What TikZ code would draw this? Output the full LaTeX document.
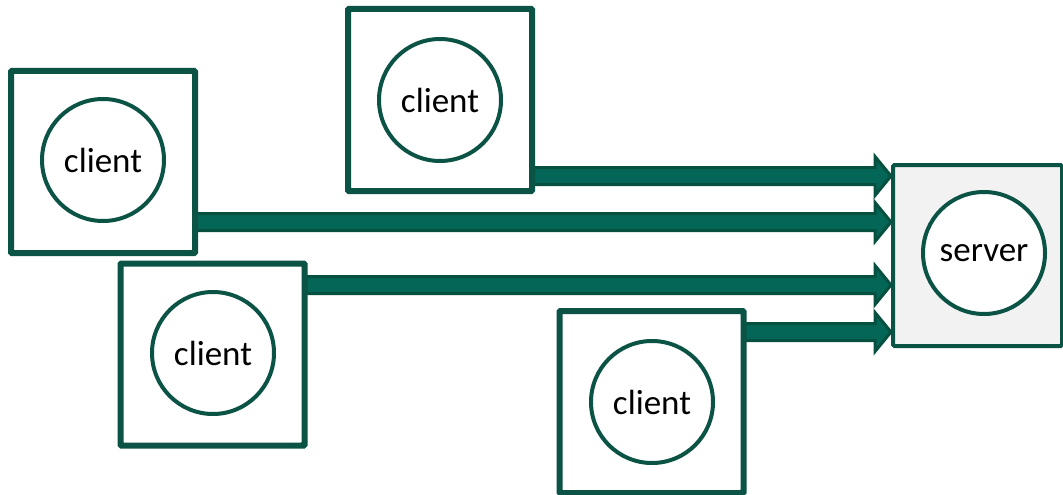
\documentclass[tikz,border=0pt]{standalone}
\usepackage{fontspec}
\setmainfont{Carlito}
\usetikzlibrary{calc}
\definecolor{boxline}{HTML}{0B5345}
\definecolor{arrowline}{HTML}{06503F}
\definecolor{arrowfill}{HTML}{046656}
\definecolor{srvfill}{HTML}{F2F2F2}
\tikzset{
  host/.style={draw=boxline, line width=4pt, rounded corners=1.5pt,
    minimum width=182pt, minimum height=180pt, inner sep=0pt, fill=white},
  proc/.style={circle, draw=boxline, line width=4pt, minimum size=122pt,
    inner sep=0pt, fill=white, font=\fontsize{35}{40}\selectfont},
  fatarrow/.style={draw=arrowline, fill=arrowfill, line width=3pt, line join=miter},
}
% thick block arrow from #1 to #2 (both on the same horizontal line)
\newcommand{\fatarrow}[2]{%
  \draw[fatarrow] ($(#1)+(0,-8.5)$) -- ($(#2)+(-16,-8.5)$) -- ($(#2)+(-16,-19.5)$)
    -- (#2) -- ($(#2)+(-16,19.5)$) -- ($(#2)+(-16,8.5)$) -- ($(#1)+(0,8.5)$) -- cycle;}
\begin{document}
\begin{tikzpicture}[x=1pt, y=-1pt]
\useasboundingbox (0,0) rectangle (1063,495);

% hosts
\node[host] (hA) at (103,162) {};
\node[host] (hB) at (440,100) {};
\node[host] (hC) at (212.5,354.5) {};
\node[host] (hD) at (651.5,402) {};
\node[host, fill=srvfill, minimum width=169pt, minimum height=181pt] (hS) at (977.5,255.5) {};

% connection points
\coordinate (sB) at (hB.east |- 0,176);
\coordinate (eB) at (hS.west |- 0,176);
\coordinate (sA) at (hA.east |- 0,222);
\coordinate (eA) at (hS.west |- 0,222);
\coordinate (sC) at (hC.east |- 0,285);
\coordinate (eC) at (hS.west |- 0,285);
\coordinate (sD) at (hD.east |- 0,332);
\coordinate (eD) at (hS.west |- 0,332);

% arrows into the server
\fatarrow{sB}{eB}
\fatarrow{sA}{eA}
\fatarrow{sC}{eC}
\fatarrow{sD}{eD}

% redraw host outlines over the arrow tails
\foreach \h in {hA,hB,hC,hD} \draw[boxline, line width=4pt, rounded corners=1.5pt] (\h.north west) rectangle (\h.south east);

% processes
\node[proc] (pA) at (103,160) {client};
\node[proc] (pB) at (440,100) {client};
\node[proc] (pC) at (213,353) {client};
\node[proc] (pD) at (652,402) {client};
\node[proc] (pS) at (984,253) {server};
\end{tikzpicture}
\end{document}
